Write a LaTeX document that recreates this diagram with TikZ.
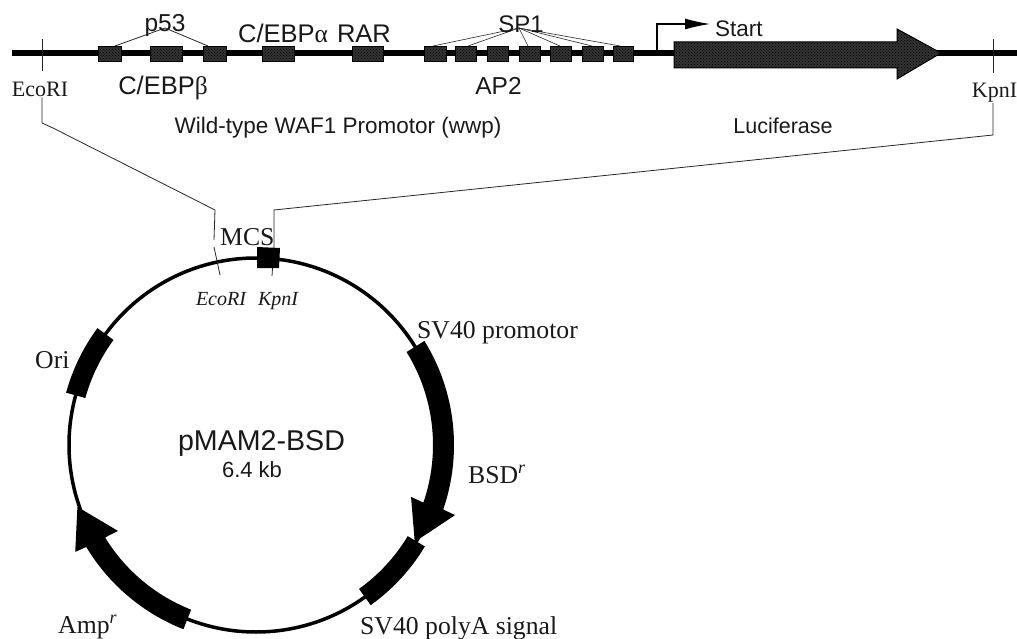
\documentclass[tikz,border=0pt]{standalone}
\usepackage{fontspec}
\setmainfont{Liberation Serif}
\setsansfont{Liberation Sans}
\usetikzlibrary{calc,arrows.meta,patterns}
\tikzset{
  sanslabel/.style={font=\sffamily\fontsize{22.5}{24}\selectfont,inner sep=0pt,anchor=base,text=black!90},
  bigsans/.style={sanslabel,font=\sffamily\fontsize{25.5}{27}\selectfont},
  seriflabel/.style={font=\fontsize{25.7}{27}\selectfont,inner sep=0pt,anchor=base west,text=black!90},
  sitelabel/.style={font=\fontsize{22}{24}\selectfont,inner sep=0pt,anchor=base,text=black!90},
  italiclabel/.style={font=\itshape\fontsize{20}{22}\selectfont,inner sep=0pt,anchor=base,text=black!90},
  stipple/.style={preaction={fill=black!80},pattern=crosshatch dots,pattern color=black},
  site/.style={stipple,draw=black,line width=1.2pt,minimum height=15pt,inner sep=0pt,anchor=west},
  thinline/.style={draw=black!85,line width=0.8pt},
  band/.style={fill=black,draw=none}
}
\newcommand{\sitebox}[3]{\node[site,minimum width=#3pt-#2pt] (#1) at (#2,-54) {};}
\begin{document}
\begin{tikzpicture}[x=1pt,y=1pt]
\useasboundingbox (0,0) rectangle (1017,-639);
% promoter line
\coordinate (lineL) at (12,-53);
\coordinate (lineR) at (1017,-53);
\draw[black,line width=5.5pt] (lineL) -- (lineR);
\sitebox{s1}{98}{121}
\sitebox{s2}{150}{182}
\sitebox{s3}{203}{226}
\sitebox{s4}{262}{294}
\sitebox{s5}{352}{383}
\sitebox{s6}{424}{446}
\sitebox{s7}{455}{476}
\sitebox{s8}{487}{508}
\sitebox{s9}{519}{540}
\sitebox{s10}{550}{571}
\sitebox{s11}{582}{603}
\sitebox{s12}{613}{633}
% ticks
\coordinate (tickEt) at (42,-39); \coordinate (tickEb) at (42,-71);
\coordinate (tickKt) at (993,-39); \coordinate (tickKb) at (993,-73);
\draw[thinline] (tickEt) -- (tickEb);
\draw[thinline] (tickKt) -- (tickKb);
% p53 fan
\coordinate (p53a) at (165,-28);
\draw[thinline] (p53a) -- (115,-46);
\draw[thinline] (p53a) -- (208,-46);
% SP1 fan
\coordinate (sp1a) at (519,-28);
\foreach \x in {433,468,528,560,592,620}
  \draw[thinline,line width=.6pt] (sp1a) -- (\x,-46);
% luciferase
\path[stipple] (674,-42) -- (897,-42) -- (897,-29) -- (941,-53) -- (897,-79) -- (897,-68) -- (674,-68) -- cycle;
\draw[black,line width=1pt] (674,-42) -- (897,-42) -- (897,-29) -- (941,-53) -- (897,-79) -- (897,-68) -- (674,-68) -- cycle;
% start
\coordinate (startA) at (657,-52);
\coordinate (startB) at (657,-24);
\coordinate (startC) at (710,-24);
\node[sanslabel,anchor=base west] (start) at (715,-37) {Start};
\draw[black,line width=1.1pt,-{Latex[length=25pt,width=11pt]}] (startA) -- (startB) -- (startC);
% upper labels
\node[sanslabel,font=\sffamily\fontsize{24.5}{26}\selectfont] (p53) at (165,-32) {p53};
\node[bigsans] (cebpa) at (314.5,-43) {C/EBP{\rmfamily α}\hspace{2pt} RAR};
\node[bigsans] (cebpb) at (163,-95) {C/EBP{\rmfamily β}};
\node[sanslabel,font=\sffamily\fontsize{24.5}{26}\selectfont] (ap2) at (498.5,-95) {AP2};
\node[sanslabel,font=\sffamily\fontsize{24}{26}\selectfont] (sp1) at (521,-33) {SP1};
\node[sanslabel] (wwp) at (338,-134) {Wild-type WAF1 Promotor (wwp)};
\node[sanslabel,font=\sffamily\fontsize{21.5}{24}\selectfont] (luc) at (783,-134) {Luciferase};
\node[sitelabel] (eco) at (40,-97) {EcoRI};
\node[sitelabel] (kpn) at (994.5,-98) {KpnI};
% plasmid circle
\coordinate (c) at (256,-445);
\draw[black,line width=3.5pt] (c) circle[radius=187];
% connectors
\coordinate (ec1) at (42,-123);
\coordinate (ec2) at (53,-128);
\coordinate (ec3) at (215,-210);
\coordinate (ec4) at (214,-240);
\coordinate (ec5) at (214,-247);
\coordinate (ec6) at (220,-275);
\draw[thinline] (eco.south -| ec1) -- (ec1) -- (ec2) -- (ec3) -- (ec4);
\draw[thinline] (ec5) -- (ec6);
\coordinate (kp1) at (993,-135);
\coordinate (kp2) at (274,-210);
\coordinate (kp3) at (274,-247);
\coordinate (kp4) at (272,-276);
\draw[thinline] (kpn.south -| kp1) -- (kp1) -- (kp2) -- (kp3);
\draw[thinline] (kp3) -- (kp4);
% MCS
\fill[black] (257,-247) -- (280,-248) -- (279,-268) -- (257,-268) -- cycle;
% bands
\newcommand{\arcband}[2]{%
 \fill[band] ($(c)+(#1:177)$) arc[start angle=#1,end angle=#2,radius=177] -- ($(c)+(#2:197)$) arc[start angle=#2,end angle=#1,radius=197] -- cycle;}
\arcband{143.6}{164.6}
\arcband{-31}{-54.4}
% BSD arrow
\fill[band] ($(c)+(31.7:177)$) arc[start angle=31.7,end angle=-19,radius=177]
  -- ($(c)+(-18.5:163.5)$) -- ($(c)+(-31.4:186)$) -- ($(c)+(-19.4:211)$) -- ($(c)+(-19:198)$)
  arc[start angle=-19,end angle=31.7,radius=198] -- cycle;
% Amp arrow
\fill[band] ($(c)+(248.5:177)$) arc[start angle=248.5,end angle=211.5,radius=177]
  -- ($(c)+(211.9:162.6)$) -- ($(c)+(199.1:189)$) -- ($(c)+(210.6:210)$) -- ($(c)+(211:198)$)
  arc[start angle=211,end angle=248.5,radius=198] -- cycle;
% lower labels
\node[seriflabel] (mcs) at (220,-245) {MCS};
\node[italiclabel] (eco2) at (221,-305) {EcoRI};
\node[italiclabel] (kpn2) at (278,-305) {KpnI};
\node[seriflabel] (ori) at (35,-368) {Ori};
\node[seriflabel] (sv1) at (417,-338) {SV40 promotor};
\node[seriflabel] (bsd) at (468,-483) {BSD\textsuperscript{\itshape r}};
\node[seriflabel] (sv2) at (360,-634) {SV40 polyA signal};
\node[seriflabel] (amp) at (58,-633) {Amp\textsuperscript{\itshape r}};
\node[sanslabel,font=\sffamily\fontsize{28.6}{30}\selectfont] (pmam) at (261.5,-450) {pMAM2-BSD};
\node[sanslabel,font=\sffamily\fontsize{22}{24}\selectfont] (kb) at (252,-477) {6.4 kb};
\end{tikzpicture}
\end{document}
